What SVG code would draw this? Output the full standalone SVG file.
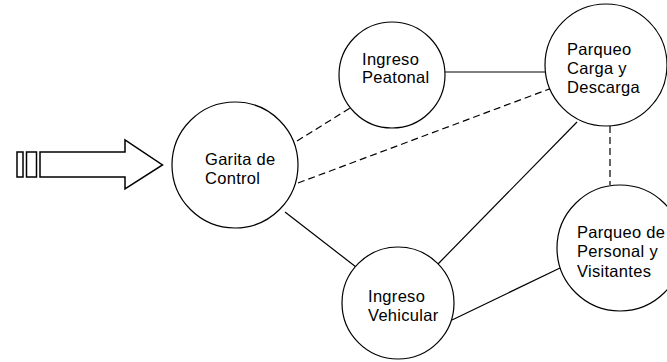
<svg xmlns="http://www.w3.org/2000/svg" width="667" height="362" viewBox="0 0 667 362">
<style>
.n{fill:#fff;stroke:#000;stroke-width:1.2}
.a{fill:#fff;stroke:#000;stroke-width:1.5}
.t{font-family:"Liberation Sans",Arial,sans-serif;font-size:16.5px;letter-spacing:0.3px;fill:#000}
.s{stroke:#000;stroke-width:1.2;fill:none}
.d{stroke:#000;stroke-width:1.2;fill:none;stroke-dasharray:7 4}
</style>
<rect width="667" height="362" fill="#fff"/>
<g id="connectors">
<line class="s" x1="445" y1="72" x2="546" y2="72"/>
<line class="d" x1="297" y1="141" x2="355" y2="105"/>
<line class="d" x1="298" y1="183" x2="552" y2="88"/>
<line class="d" x1="610" y1="126" x2="610" y2="185"/>
<line class="s" x1="577" y1="122" x2="438" y2="264"/>
<line class="s" x1="285" y1="212" x2="356" y2="267"/>
<line class="s" x1="452" y1="320" x2="560" y2="268"/>
</g>
<g id="arrow">
<rect class="a" x="17" y="152" width="6" height="25"/>
<rect class="a" x="26.5" y="152" width="10" height="25"/>
<polygon class="a" points="40,152 125,152 125,140 162.5,165 125,189 125,177 40,177"/>
</g>
<g id="garita">
<circle class="n" cx="235" cy="165" r="63"/>
<text class="t" x="205" y="165">Garita de</text>
<text class="t" x="205" y="184">Control</text>
</g>
<g id="peatonal">
<circle class="n" cx="392" cy="75" r="53"/>
<text class="t" x="362" y="65">Ingreso</text>
<text class="t" x="362" y="83">Peatonal</text>
</g>
<g id="carga">
<circle class="n" cx="606" cy="65" r="61"/>
<text class="t" x="567" y="55">Parqueo</text>
<text class="t" x="567" y="74">Carga y</text>
<text class="t" x="567" y="93">Descarga</text>
</g>
<g id="personal">
<circle class="n" cx="620" cy="248" r="63"/>
<text class="t" x="577" y="238">Parqueo de</text>
<text class="t" x="577" y="257">Personal y</text>
<text class="t" x="577" y="277">Visitantes</text>
</g>
<g id="vehicular">
<circle class="n" cx="398" cy="303" r="56"/>
<text class="t" x="368" y="302">Ingreso</text>
<text class="t" x="368" y="321">Vehicular</text>
</g>
</svg>
